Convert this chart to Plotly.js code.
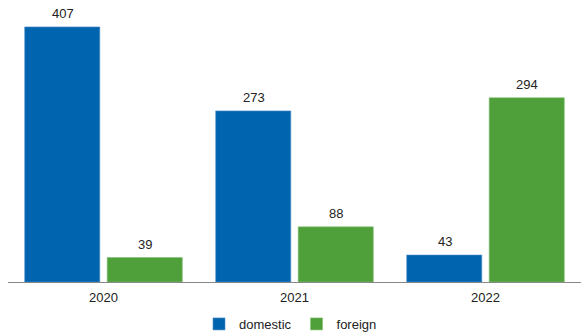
<!DOCTYPE html>
<html><head><meta charset="utf-8">
<script src="https://cdn.plot.ly/plotly-3.0.1.min.js"></script>
<style>body{margin:0}#c{width:581px;height:334px}</style>
</head><body><div id="c"></div>
<script>
const years = ['2020', '2021', '2022'];
const domestic = [407, 273, 43];
const foreign = [39, 88, 294];

const font = {family: 'Liberation Sans, Arial, sans-serif', size: 13, color: '#222'};
const traces = [
  {type: 'bar', name: 'domestic', x: years, y: domestic,
   marker: {color: '#0064AF', line: {color: '#4d8fc6', width: 0.6}}},
  {type: 'bar', name: 'foreign', x: years, y: foreign,
   marker: {color: '#4FA03B', line: {color: '#7fbf70', width: 0.6}}}
];
const annotations = [];
[[domestic, -41], [foreign, 41]].forEach(([vals, dx]) => {
  vals.forEach((v, i) => annotations.push({
    x: years[i], y: v, xref: 'x', yref: 'y', text: String(v), showarrow: false,
    xshift: dx, yshift: 4, yanchor: 'bottom', xanchor: 'center', font: font
  }));
});
const layout = {
  width: 581, height: 334,
  margin: {l: 8, r: 0, t: 10, b: 52},
  paper_bgcolor: '#fff', plot_bgcolor: '#fff',
  font: font,
  barmode: 'group', bargap: 0.136, bargroupgap: 0.09,
  annotations: annotations,
  xaxis: {showline: true, linecolor: '#888', linewidth: 1, ticks: '', showgrid: false, tickfont: font,
          ticklabelstandoff: 3, fixedrange: true, automargin: false},
  yaxis: {range: [0, 434], visible: false, showgrid: false, zeroline: false, fixedrange: true},
  showlegend: true,
  legend: {orientation: 'h', x: 0.5, xanchor: 'center', xref: 'container', yref: 'container', y: 0.03, yanchor: 'middle',
           font: font, itemwidth: 30, traceorder: 'normal'}
};
Plotly.newPlot('c', traces, layout, {displayModeBar: false, staticPlot: true});
</script></body></html>
